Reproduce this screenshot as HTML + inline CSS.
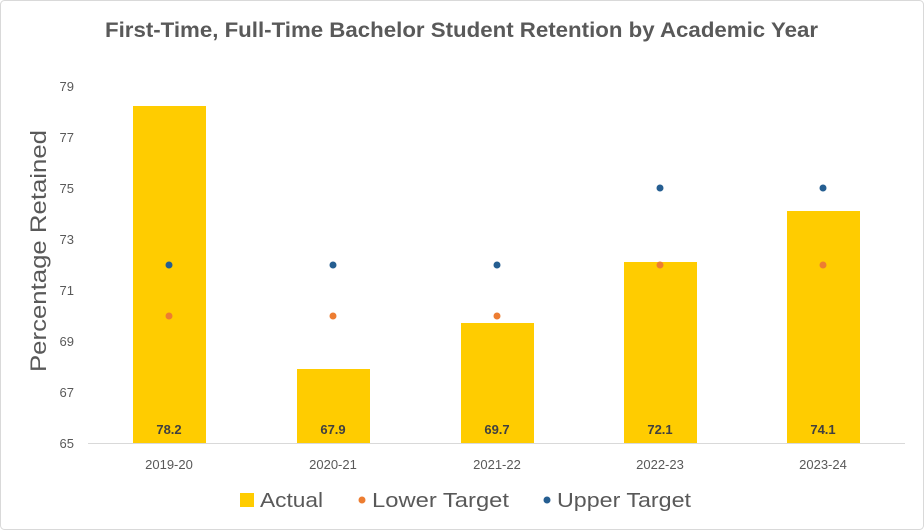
<!DOCTYPE html>
<html><head><meta charset="utf-8"><style>
html,body{margin:0;padding:0;background:#fff;}
svg{display:block;font-family:"Liberation Sans",sans-serif;}
</style></head><body>
<svg width="924" height="530" viewBox="0 0 924 530">
<rect x="0.5" y="0.5" width="923" height="529" rx="4" fill="#fff" stroke="#d9d9d9"/>
<text x="105" y="37" textLength="713" lengthAdjust="spacingAndGlyphs" font-size="21" font-weight="bold" fill="#595959">First-Time, Full-Time Bachelor Student Retention by Academic Year</text>
<text transform="translate(46,251) rotate(-90)" text-anchor="middle" textLength="242" lengthAdjust="spacingAndGlyphs" font-size="22" fill="#595959">Percentage Retained</text>
<g font-size="13" fill="#595959" text-anchor="end">
<text x="74" y="91">79</text><text x="74" y="142">77</text><text x="74" y="193">75</text>
<text x="74" y="244">73</text><text x="74" y="295">71</text><text x="74" y="346">69</text>
<text x="74" y="397">67</text><text x="74" y="448">65</text>
</g>
<line x1="88" y1="443.5" x2="905" y2="443.5" stroke="#d9d9d9"/>
<g fill="#FFCC00">
<rect x="133" y="106" width="73" height="337"/>
<rect x="297" y="369" width="73" height="74"/>
<rect x="461" y="323" width="73" height="120"/>
<rect x="624" y="262" width="73" height="181"/>
<rect x="787" y="211" width="73" height="232"/>
</g>
<g font-size="13" font-weight="bold" fill="#404040" text-anchor="middle">
<text x="169" y="434">78.2</text><text x="333" y="434">67.9</text><text x="497" y="434">69.7</text>
<text x="660" y="434">72.1</text><text x="823" y="434">74.1</text>
</g>
<g fill="#ED7D31">
<circle cx="169" cy="316" r="3.5"/><circle cx="333" cy="316" r="3.5"/><circle cx="497" cy="316" r="3.5"/>
<circle cx="660" cy="265" r="3.5"/><circle cx="823" cy="265" r="3.5"/>
</g>
<g fill="#255E91">
<circle cx="169" cy="265" r="3.5"/><circle cx="333" cy="265" r="3.5"/><circle cx="497" cy="265" r="3.5"/>
<circle cx="660" cy="188" r="3.5"/><circle cx="823" cy="188" r="3.5"/>
</g>
<g font-size="13" fill="#595959" text-anchor="middle">
<text x="169" y="469">2019-20</text><text x="333" y="469">2020-21</text><text x="497" y="469">2021-22</text>
<text x="660" y="469">2022-23</text><text x="823" y="469">2023-24</text>
</g>
<rect x="240" y="493" width="14" height="14" fill="#FFCC00"/>
<text x="260" y="507" textLength="63" lengthAdjust="spacingAndGlyphs" font-size="20" fill="#595959">Actual</text>
<circle cx="362" cy="500" r="3.5" fill="#ED7D31"/>
<text x="372" y="507" textLength="137" lengthAdjust="spacingAndGlyphs" font-size="20" fill="#595959">Lower Target</text>
<circle cx="547" cy="500" r="3.5" fill="#255E91"/>
<text x="557" y="507" textLength="134" lengthAdjust="spacingAndGlyphs" font-size="20" fill="#595959">Upper Target</text>
</svg>
</body></html>
